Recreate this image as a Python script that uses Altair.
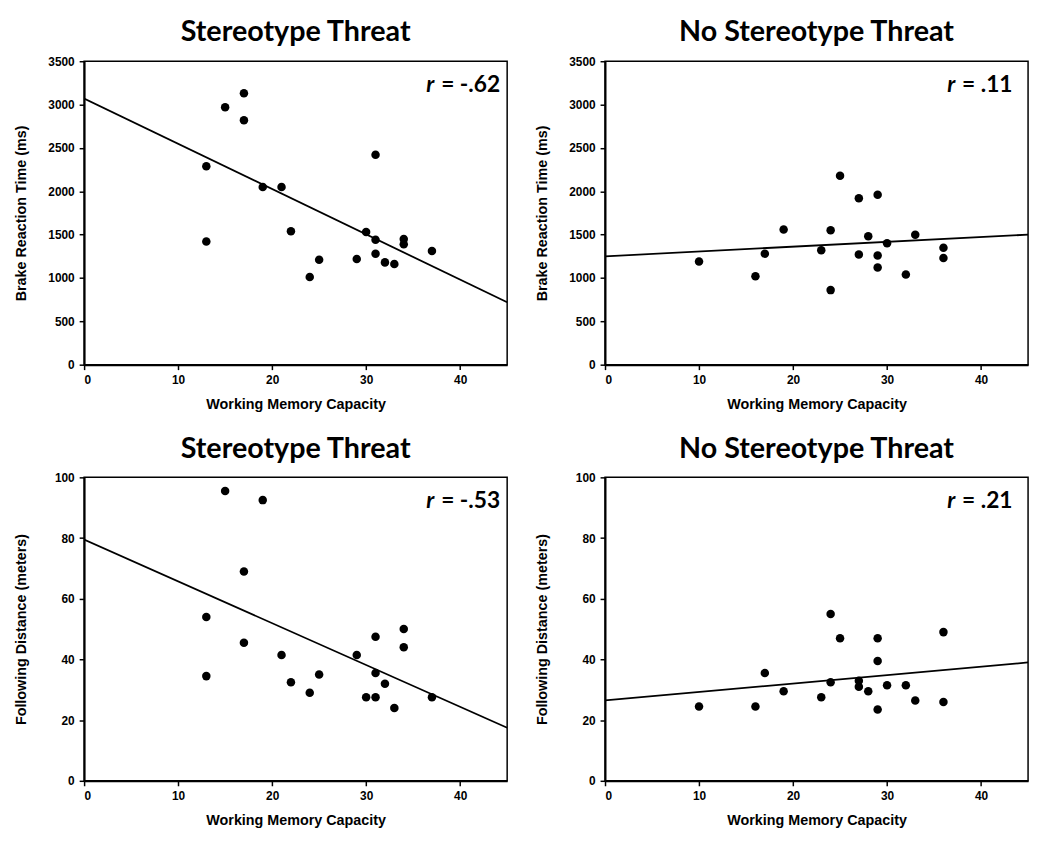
import altair as alt
import pandas as pd

# ---- data ----
st_wmc = [13, 13, 15, 17, 17, 19, 21, 22, 24, 25, 29, 30, 31, 31, 31, 32, 33, 34, 34, 37]
st_brake = [2290, 1420, 2970, 3130, 2820, 2050, 2050, 1540, 1010, 1210, 1220, 1530, 2420, 1440, 1280, 1180, 1160, 1450, 1390, 1310]
st_follow_wmc = [13, 13, 15, 17, 17, 19, 21, 22, 24, 25, 29, 30, 31, 31, 31, 32, 33, 34, 34, 37]
st_follow = [54, 34.5, 95.5, 69, 45.5, 92.5, 41.5, 32.5, 29, 35, 41.5, 27.5, 47.5, 35.5, 27.5, 32, 24, 50, 44, 27.5]

nst_wmc = [10, 16, 17, 19, 23, 24, 24, 25, 27, 27, 28, 29, 29, 29, 30, 32, 33, 36, 36]
nst_brake = [1190, 1020, 1280, 1560, 1320, 1550, 860, 2180, 1920, 1270, 1480, 1960, 1260, 1120, 1400, 1040, 1500, 1350, 1230]
nst_follow_wmc = [10, 16, 17, 19, 23, 24, 24, 25, 27, 27, 28, 29, 29, 29, 30, 32, 33, 36, 36]
nst_follow = [24.5, 24.5, 35.5, 29.5, 27.5, 55, 32.5, 47, 33, 31, 29.5, 47, 39.5, 23.5, 31.5, 31.5, 26.5, 49, 26]

line_x = [0, 45]
st_brake_line = [3070, 720]
nst_brake_line = [1250, 1500]
st_follow_line = [79.5, 17.5]
nst_follow_line = [26.5, 39]

titles = ["Stereotype Threat", "No Stereotype Threat"]
r_texts = ["= -.62", "= .11", "= -.53", "= .21"]
x_title = "Working Memory Capacity"
y_titles = ["Brake Reaction Time (ms)", "Following Distance (meters)"]
brake_ticks = [0, 500, 1000, 1500, 2000, 2500, 3000, 3500]
follow_ticks = [0, 20, 40, 60, 80, 100]
x_ticks = [0, 10, 20, 30, 40]

W, H = 428, 307
LABEL_FONT = "Liberation Sans"
TITLE_FONT = "Lato"


def panel(title, xs, ys, lys, ymax, yticks, ytitle, rtext):
    pts = pd.DataFrame({"x": xs, "y": ys})
    ln = pd.DataFrame({"x": line_x, "y": lys})
    xsc = alt.Scale(domain=[0, 45], nice=False, zero=True)
    ysc = alt.Scale(domain=[0, ymax], nice=False)
    xax = alt.Axis(values=x_ticks, title=x_title, format="d")
    yax = alt.Axis(values=yticks, title=ytitle, format="d", minExtent=44)
    points = alt.Chart(pts).mark_circle(size=74, color="black", opacity=1).encode(
        x=alt.X("x:Q", scale=xsc, axis=xax),
        y=alt.Y("y:Q", scale=ysc, axis=yax),
    )
    line = alt.Chart(ln).mark_line(color="black", strokeWidth=1.8, clip=True).encode(
        x=alt.X("x:Q", scale=xsc),
        y=alt.Y("y:Q", scale=ysc),
    )
    r_lbl = alt.Chart(pd.DataFrame({"t": ["r"]})).mark_text(
        font=TITLE_FONT, fontSize=23, fontWeight="bold", fontStyle="italic",
        align="left", baseline="middle", color="black"
    ).encode(x=alt.value(W * 36.4 / 45), y=alt.value(24), text="t:N")
    rest = alt.Chart(pd.DataFrame({"t": [rtext]})).mark_text(
        font=TITLE_FONT, fontSize=23, fontWeight="bold",
        align="left", baseline="middle", color="black"
    ).encode(x=alt.value(W * 36.4 / 45 + 15), y=alt.value(24), text="t:N")
    return alt.layer(points, line, r_lbl, rest).properties(
        width=W, height=H, title=alt.TitleParams(title)
    )


p1 = panel(titles[0], st_wmc, st_brake, st_brake_line, 3500, brake_ticks, y_titles[0], r_texts[0])
p2 = panel(titles[1], nst_wmc, nst_brake, nst_brake_line, 3500, brake_ticks, y_titles[0], r_texts[1])
p3 = panel(titles[0], st_follow_wmc, st_follow, st_follow_line, 100, follow_ticks, y_titles[1], r_texts[2])
p4 = panel(titles[1], nst_follow_wmc, nst_follow, nst_follow_line, 100, follow_ticks, y_titles[1], r_texts[3])

row1 = alt.hconcat(p1, p2, spacing=26)
row2 = alt.hconcat(p3, p4, spacing=26)
chart = alt.vconcat(row1, row2, spacing=22).configure_view(
    stroke="black", strokeWidth=1.5
).configure_axis(
    grid=False,
    domainColor="black", domainWidth=2,
    tickColor="black", tickWidth=1.5, tickSize=5,
    labelFont=LABEL_FONT, labelFontSize=12, labelFontWeight="bold", labelColor="black",
    titleFont=LABEL_FONT, titleFontSize=14.5, titleFontWeight="bold", titleColor="black",
    labelPadding=5, titlePadding=12,
).configure_title(
    font=TITLE_FONT, fontSize=29, fontWeight="bold", color="black", anchor="middle", offset=8
).properties(background="white")

chart.save("out.html", embed_options={"renderer": "svg", "actions": False})
